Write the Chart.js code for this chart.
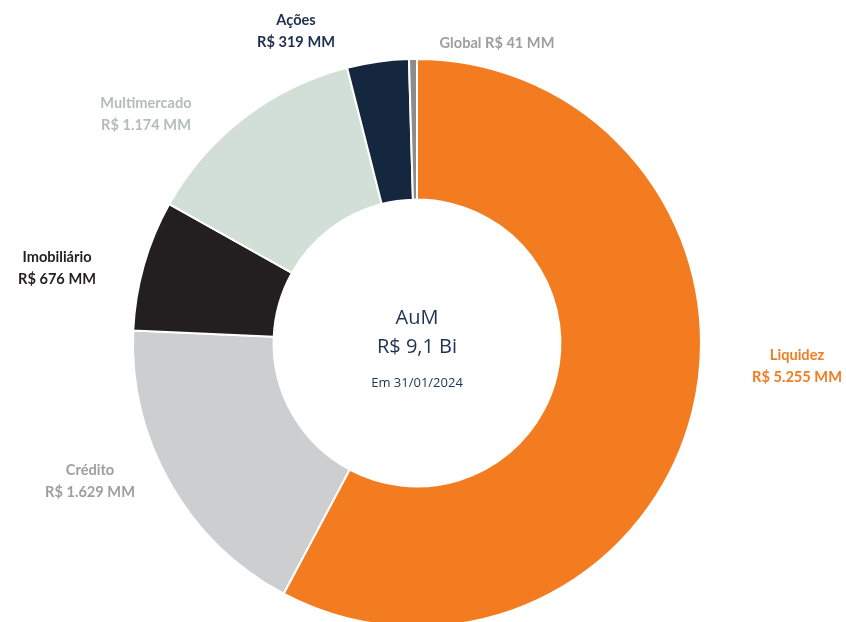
<!DOCTYPE html>
<html><head><meta charset="utf-8">
<script src="https://cdn.jsdelivr.net/npm/chart.js@4/dist/chart.umd.min.js"></script>
<style>html,body{margin:0;padding:0;background:#fff;overflow:hidden;width:846px;height:622px}#w{width:846px;height:640px;position:relative}</style>
</head><body><div id="w"><canvas id="c"></canvas></div>
<script>
const categories = ["Liquidez", "Crédito", "Imobiliário", "Multimercado", "Ações", "Global"];
const values = [5255, 1629, 676, 1174, 319, 41];
const valueLabels = ["R$ 5.255 MM", "R$ 1.629 MM", "R$ 676 MM", "R$ 1.174 MM", "R$ 319 MM", "R$ 41 MM"];
const centerLines = ["AuM", "R$ 9,1 Bi", "Em 31/01/2024"];

const colors = ["#F47C20", "#CDCED0", "#231F20", "#D2DFD7", "#14273F", "#8C8C8C"];
const labelColors = ["#F47C20", "#9E9E9E", "#231F20", "#B3BDB7", "#1E2F4D", "#9E9E9E"];
// label anchor (center x, first line y) and whether single line
const labelPos = [
  {x: 797, y: 355, one: false},
  {x: 90, y: 470, one: false},
  {x: 57, y: 257, one: false},
  {x: 146, y: 103, one: false},
  {x: 296, y: 20, one: false},
  {x: 497, y: 43, one: true}
];

const labelsPlugin = {
  id: 'labelsPlugin',
  afterDraw(chart) {
    const ctx = chart.ctx;
    ctx.save();
    ctx.textAlign = 'center';
    ctx.textBaseline = 'middle';
    ctx.font = 'bold 14.6px Lato, "Open Sans", sans-serif';
    categories.forEach((c, i) => {
      const p = labelPos[i];
      ctx.fillStyle = labelColors[i];
      if (p.one) {
        ctx.fillText(c + ' ' + valueLabels[i], p.x, p.y);
      } else {
        ctx.fillText(c, p.x, p.y);
        ctx.fillText(valueLabels[i], p.x, p.y + 22);
      }
    });
    const arc = chart.getDatasetMeta(0).data[0];
    const cx = arc.x, cy = arc.y;
    ctx.fillStyle = '#1E3352';
    ctx.font = '20px "Open Sans", sans-serif';
    ctx.fillText(centerLines[0], cx, cy - 25);
    ctx.fillText(centerLines[1], cx, cy + 4);
    ctx.font = '13px "Open Sans", sans-serif';
    ctx.fillText(centerLines[2], cx, cy + 40);
    ctx.restore();
  }
};

new Chart(document.getElementById('c'), {
  type: 'doughnut',
  data: {
    labels: categories,
    datasets: [{
      data: values,
      backgroundColor: colors,
      borderColor: '#ffffff',
      borderWidth: 2,
      hoverOffset: 0
    }]
  },
  options: {
    responsive: true,
    maintainAspectRatio: false,
    animation: false,
    cutout: '50.5%',
    rotation: 0,
    layout: {padding: {top: 58, bottom: 12, left: 0, right: 12}},
    plugins: {legend: {display: false}, tooltip: {enabled: false}}
  },
  plugins: [labelsPlugin]
});
</script>
</body></html>
